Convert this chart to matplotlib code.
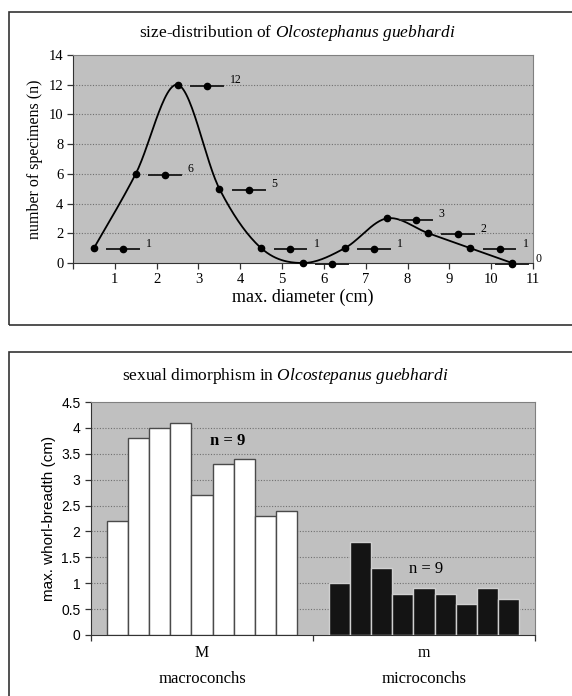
import numpy as np
import matplotlib
matplotlib.use("Agg")
import matplotlib.pyplot as plt
from matplotlib.patches import Rectangle
from matplotlib.transforms import blended_transform_factory

plt.rcParams['font.family'] = ['Liberation Serif', 'DejaVu Serif']
plt.rcParams['mathtext.fontset'] = 'custom'
plt.rcParams['mathtext.rm'] = 'Liberation Serif'
plt.rcParams['mathtext.it'] = 'Liberation Serif:italic'

# ---- data: size distribution ----
diameters = [0.5, 1.5, 2.5, 3.5, 4.5, 5.5, 6.5, 7.5, 8.5, 9.5, 10.5]
counts = [1, 6, 12, 5, 1, 0, 1, 3, 2, 1, 0]
count_labels = ["1", "6", "12", "5", "1", "", "1", "3", "2", "1", "0"]
x_ticks_top = list(range(0, 12))
x_ticklabels_top = [""] + [str(i) for i in range(1, 12)]
y_ticks_top = [0, 2, 4, 6, 8, 10, 12, 14]

# ---- data: sexual dimorphism ----
group_codes = ["M", "m"]
group_names = ["macroconchs", "microconchs"]
macro = [2.2, 3.8, 4.0, 4.1, 2.7, 3.3, 3.4, 2.3, 2.4]
micro = [1.0, 1.8, 1.3, 0.8, 0.9, 0.8, 0.6, 0.9, 0.7]
y_ticks_bot = [0, 0.5, 1, 1.5, 2, 2.5, 3, 3.5, 4, 4.5]
y_ticklabels_bot = ["0", "0.5", "1", "1.5", "2", "2.5", "3", "3.5", "4", "4.5"]

W, H = 572, 696
fig = plt.figure(figsize=(W / 100, H / 100), dpi=100)
fig.patch.set_facecolor("white")

def fx(px):
    return px / W

def fy(py):
    return 1 - py / H

# panel borders
fig.add_artist(Rectangle((fx(9), fy(325)), fx(600), 313 / H, transform=fig.transFigure,
                         fill=False, edgecolor="#333333", lw=1.2))
fig.add_artist(Rectangle((fx(9), fy(720)), fx(600), (720 - 352) / H, transform=fig.transFigure,
                         fill=False, edgecolor="#333333", lw=1.2))

PLOT_BG = "#c0c0c0"
GRID_C = "#707070"

def smooth_curve(x, y, n=30):
    x = np.asarray(x, float); y = np.asarray(y, float)
    px = np.concatenate([[x[0]], x, [x[-1]]])
    py = np.concatenate([[y[0]], y, [y[-1]]])
    xs, ys = [], []
    t = np.linspace(0, 1, n)
    for i in range(1, len(px) - 2):
        p0, p1, p2, p3 = [np.array([px[j], py[j]]) for j in (i - 1, i, i + 1, i + 2)]
        c1 = p1 + (p2 - p0) / 6
        c2 = p2 - (p3 - p1) / 6
        b = ((1 - t) ** 3)[:, None] * p1 + (3 * (1 - t) ** 2 * t)[:, None] * c1 + \
            (3 * (1 - t) * t ** 2)[:, None] * c2 + (t ** 3)[:, None] * p2
        xs.append(b[:, 0]); ys.append(b[:, 1])
    return np.concatenate(xs), np.concatenate(ys)

# ---------------- top chart ----------------
ax1 = fig.add_axes([fx(73), fy(263), fx(460), (263 - 55) / H])
ax1.set_facecolor(PLOT_BG)
sx, sy = smooth_curve(diameters, counts)
ax1.plot(sx, sy, color="black", lw=1.3, zorder=3, clip_on=False)
ax1.plot(diameters, counts, "o", color="black", ms=4.5, zorder=4, clip_on=False)

# data-label keys
key_x = [min(d + 0.7, 10.5) for d in diameters]
for kx, c, lab in zip(key_x, counts, count_labels):
    ky = c - 0.08
    ax1.plot([kx - 0.38, kx + 0.38], [ky, ky], color="#222222", lw=1.4, zorder=5, clip_on=False)
    ax1.plot([kx], [ky], "o", color="black", ms=4.5, zorder=6, clip_on=False)
    if lab:
        ax1.text(kx + 0.55, c + 0.3, lab, fontsize=8.5, va="center", ha="left", clip_on=False)

ax1.set_xlim(0, 11)
ax1.set_ylim(0, 14)
ax1.set_xticks(x_ticks_top)
ax1.set_xticklabels(x_ticklabels_top, fontsize=10.5)
ax1.set_yticks(y_ticks_top)
ax1.set_yticklabels([str(v) for v in y_ticks_top], fontsize=10.5)
for v in y_ticks_top[1:-1]:
    ax1.axhline(v, color=GRID_C, lw=0.8, ls=(0, (1, 1.5)), zorder=1)
for s in ["top", "right"]:
    ax1.spines[s].set_color("#808080")
ax1.spines["left"].set_color("#333333")
ax1.spines["bottom"].set_color("#333333")
ax1.tick_params(direction="out", length=4, width=0.9, color="#333333", pad=3)
ax1.set_xlabel("max. diameter (cm)", fontsize=13, labelpad=2)
ax1.set_ylabel("number of specimens (n)", fontsize=11.5, labelpad=4)
fig.text(fx(297), fy(33), r"size-distribution of $\mathit{Olcostephanus\ guebhardi}$",
         ha="center", va="center", fontsize=12.5)

# ---------------- bottom chart ----------------
ax2 = fig.add_axes([fx(91), fy(635), fx(444), (635 - 402) / H])
ax2.set_facecolor(PLOT_BG)
n = len(macro)
group_w = 0.858
bw = group_w / n
offs = -group_w / 2 + bw / 2 + np.arange(n) * bw
ax2.bar(0 + offs, macro, width=bw, color="white", edgecolor="#4a4a4a", lw=1.0, zorder=3)
ax2.bar(1 + offs, micro, width=bw, color="#141414", edgecolor="#d0d0d0", lw=1.0, zorder=3)
ax2.set_xlim(-0.5, 1.5)
ax2.set_ylim(0, 4.5)
for v in y_ticks_bot[1:-1]:
    ax2.axhline(v, color=GRID_C, lw=0.8, ls=(0, (1, 1.5)), zorder=1)
ax2.set_yticks(y_ticks_bot)
ax2.set_yticklabels(y_ticklabels_bot, fontsize=10, family=["Liberation Sans", "DejaVu Sans"])
ax2.set_xticks([-0.5, 0.5, 1.5])
ax2.set_xticklabels([])
ax2.tick_params(axis="both", which="major", direction="out", length=4, width=0.9, color="#333333")
for s in ["top", "right"]:
    ax2.spines[s].set_color("#808080")
ax2.spines["left"].set_color("#333333")
ax2.spines["bottom"].set_color("#333333")
ax2.set_ylabel("max. whorl-breadth (cm)", fontsize=11, family=["Liberation Sans", "DejaVu Sans"], labelpad=4)

trans = blended_transform_factory(ax2.transData, fig.transFigure)
for i, (code, name) in enumerate(zip(group_codes, group_names)):
    ax2.text(i, fy(653), code, transform=trans, ha="center", va="center", fontsize=11.5)
    ax2.text(i, fy(679), name, transform=trans, ha="center", va="center", fontsize=12)

ax2.text(0.117, 3.75, "n = 9", fontsize=12, fontweight="bold", ha="center", va="center", zorder=5)
ax2.text(1.01, 1.27, "n = 9", fontsize=12, ha="center", va="center", zorder=5)
fig.text(fx(285), fy(376), r"sexual dimorphism in $\mathit{Olcostepanus\ guebhardi}$",
         ha="center", va="center", fontsize=12.5)

fig.savefig("out.png", dpi=100, facecolor="white")
